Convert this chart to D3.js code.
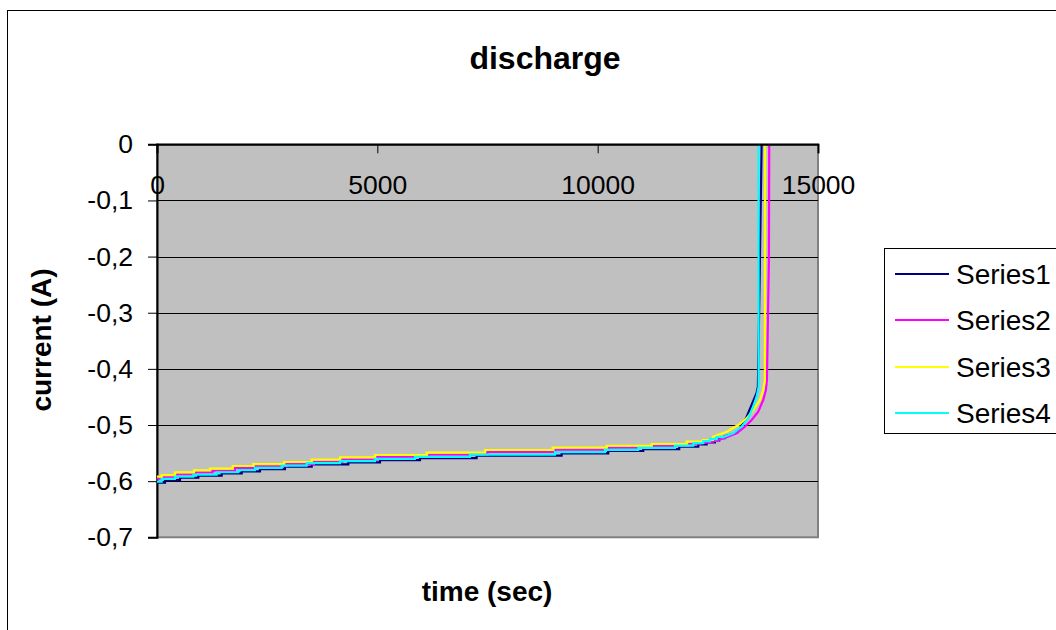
<!DOCTYPE html>
<html><head><meta charset="utf-8">
<script src="https://cdn.jsdelivr.net/npm/d3@7"></script>
<style>body{margin:0;background:#fff}svg{display:block}text{font-family:"Liberation Sans",Arial,sans-serif}</style>
</head><body><svg id="c" width="1056" height="630"></svg>
<script>
const title = "discharge";
const xTitle = "time (sec)";
const yTitle = "current (A)";
const seriesNames = ["Series1", "Series2", "Series3", "Series4"];
const seriesColors = ["#000080", "#FF00FF", "#FFFF00", "#00FFFF"];
const xTicks = [0, 5000, 10000, 15000];
const yTicks = [0, -0.1, -0.2, -0.3, -0.4, -0.5, -0.6, -0.7];

// step part: [time, level from that time on]; curve part: [time, current]
const series1Steps = [[0,-0.6028],[182,-0.5980],[522,-0.5939],[938,-0.5903],[1468,-0.5861],[1922,-0.5825],[2337,-0.5784],[2904,-0.5743],[3510,-0.5700],[4341,-0.5664],[5060,-0.5624],[5967,-0.5588],[7253,-0.5547],[9182,-0.5504],[10240,-0.5463],[11034,-0.5428],[11851,-0.5387],[12282,-0.5344],[12472,-0.5308],[12661,-0.5273],[12759,-0.5235]];
const series1Curve = [[12880,-0.5200],[13171,-0.5134],[13375,-0.4866],[13602,-0.4439],[13636,-0.4323],[13681,-0.2100],[13721,0]];
const series2Steps = [[0,-0.5957],[150,-0.5927],[460,-0.5879],[880,-0.5843],[1260,-0.5814],[1770,-0.5766],[2240,-0.5731],[2940,-0.5695],[3560,-0.5654],[4210,-0.5611],[5000,-0.5570],[6180,-0.5529],[7500,-0.5481],[9050,-0.5440],[10260,-0.5405],[11280,-0.5374],[12080,-0.5333]];
const series2Curve = [[12321,-0.5326],[12623,-0.5298],[12927,-0.5219],[13153,-0.5148],[13342,-0.5030],[13494,-0.4911],[13644,-0.4763],[13757,-0.4555],[13818,-0.4377],[13841,-0.4199],[13886,-0.2072],[13893,0]];
const series3Steps = [[0,-0.5921],[106,-0.5891],[408,-0.5843],[839,-0.5807],[1203,-0.5778],[1718,-0.5730],[2185,-0.5695],[2882,-0.5659],[3510,-0.5618],[4152,-0.5575],[4946,-0.5534],[6119,-0.5493],[7442,-0.5445],[8978,-0.5404],[10203,-0.5369],[11224,-0.5338],[12018,-0.5297],[12389,-0.5267]];
const series3Curve = [[12616,-0.5208],[12927,-0.5119],[13190,-0.5000],[13381,-0.4881],[13530,-0.4733],[13682,-0.4555],[13757,-0.4377],[13795,-0.4199],[13800,0]];
const series4Steps = [[0,-0.6008],[106,-0.5960],[408,-0.5919],[824,-0.5883],[1354,-0.5841],[1845,-0.5805],[2224,-0.5764],[2829,-0.5723],[3396,-0.5680],[4152,-0.5644],[4946,-0.5604],[5854,-0.5568],[7102,-0.5527],[9031,-0.5484],[10165,-0.5443],[10921,-0.5408],[11753,-0.5367],[12169,-0.5324],[12396,-0.5288],[12548,-0.5253],[12700,-0.5215]];
const series4Curve = [[12849,-0.5215],[13076,-0.5148],[13267,-0.5030],[13417,-0.4881],[13530,-0.4674],[13607,-0.4496],[13653,-0.4318],[13650,0]];

const stepsList = [series1Steps, series2Steps, series3Steps, series4Steps];
const curveList = [series1Curve, series2Curve, series3Curve, series4Curve];

const svg = d3.select("#c");
const L = 157, R = 818, T = 144.3, B = 537.3;
const x = d3.scaleLinear().domain([0, 15000]).range([L, R]);
const y = d3.scaleLinear().domain([-0.7, 0]).range([B, T]);

// outer chart border
svg.append("rect").attr("x", 7.5).attr("y", 10.5).attr("width", 1100).attr("height", 700)
  .attr("fill", "#fff").attr("stroke", "#000").attr("stroke-width", 1);

// plot area
svg.append("rect").attr("x", L).attr("y", T).attr("width", R - L).attr("height", B - T)
  .attr("fill", "#C0C0C0").attr("stroke", "#808080").attr("stroke-width", 2);

// gridlines
svg.append("g").selectAll("line").data(yTicks.filter(d => d !== 0 && d !== -0.7)).join("line")
  .attr("x1", L).attr("x2", R).attr("y1", d => Math.round(y(d)) + 0.5).attr("y2", d => Math.round(y(d)) + 0.5)
  .attr("stroke", "#000").attr("stroke-width", 1);

// y axis
const yAxis = d3.axisLeft(y).tickValues(yTicks).tickSize(9).tickPadding(15)
  .tickFormat(d => d === 0 ? "0" : d3.format(".1f")(d).replace("−", "-").replace(".", ","));
const gy = svg.append("g").attr("transform", `translate(${L},0)`).call(yAxis);
gy.select(".domain").attr("stroke", "#000").attr("stroke-width", 2);
gy.selectAll(".tick line").attr("stroke", "#000");
gy.selectAll("text").attr("font-size", 26.5).attr("fill", "#000");

// series
const lineGen = d3.line().x(d => x(d[0])).y(d => y(d[1]));
stepsList.forEach((steps, i) => {
  const pts = [];
  steps.forEach((s, k) => {
    if (k > 0) pts.push([s[0], steps[k - 1][1]]);
    pts.push(s);
  });
  const curve = curveList[i];
  pts.push([curve[0][0], steps[steps.length - 1][1]]);
  curve.forEach(c => pts.push(c));
  svg.append("path").datum(pts).attr("d", lineGen).attr("fill", "none")
    .attr("stroke", seriesColors[i]).attr("stroke-width", 2.2).attr("stroke-linejoin", "miter");
});

// x axis at y = 0
const xAxis = d3.axisBottom(x).tickValues(xTicks).tickSize(9).tickPadding(22).tickFormat(d3.format("d"));
const gx = svg.append("g").attr("transform", `translate(0,${y(0)})`).call(xAxis);
gx.select(".domain").attr("stroke", "#000").attr("stroke-width", 2);
gx.selectAll(".tick line").attr("stroke", "#000");
gx.selectAll("text").attr("font-size", 26.5).attr("fill", "#000");

// titles
svg.append("text").attr("x", 545).attr("y", 69).attr("text-anchor", "middle")
  .attr("font-size", 32).attr("font-weight", "bold").text(title);
svg.append("text").attr("x", 487).attr("y", 601).attr("text-anchor", "middle")
  .attr("font-size", 28).attr("font-weight", "bold").text(xTitle);
svg.append("text").attr("transform", "translate(51,340) rotate(-90)").attr("text-anchor", "middle")
  .attr("font-size", 28).attr("font-weight", "bold").text(yTitle);

// legend
const lg = svg.append("g");
lg.append("rect").attr("x", 884.5).attr("y", 248.5).attr("width", 200).attr("height", 185)
  .attr("fill", "#fff").attr("stroke", "#000").attr("stroke-width", 1);
const legY = [274, 320, 367, 413];
seriesNames.forEach((n, i) => {
  lg.append("line").attr("x1", 895).attr("x2", 949).attr("y1", legY[i]).attr("y2", legY[i])
    .attr("stroke", seriesColors[i]).attr("stroke-width", 2.2);
  lg.append("text").attr("x", 956).attr("y", legY[i]).attr("dy", "0.35em")
    .attr("font-size", 28).text(n);
});
</script></body></html>
